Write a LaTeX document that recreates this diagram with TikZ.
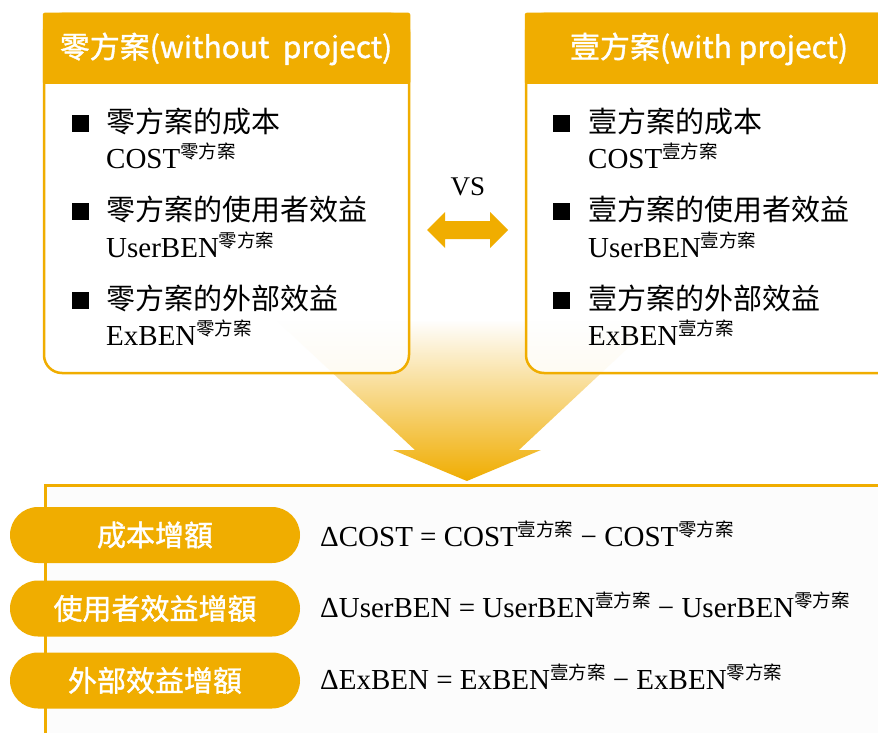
\documentclass[tikz,border=0pt]{standalone}
\usepackage{fontspec}
\setmainfont{Liberation Serif}
\newfontfamily\cjk{Noto Sans CJK TC}
\newfontfamily\cjkmid[FakeBold=1.2]{Noto Sans CJK TC}
\usetikzlibrary{fadings}
\definecolor{gold}{RGB}{240,173,0}
\definecolor{panelbg}{RGB}{252,252,252}
\tikzfading[name=fadeup, top color=transparent!100, middle color=transparent!70, bottom color=transparent!0]
\newcommand{\cjksup}[1]{\raisebox{10pt}{\fontsize{18.5pt}{18.5pt}\cjk #1}}
\tikzset{
  boxline/.style={draw=gold, line width=2.5pt, fill=white, fill opacity=0.85, draw opacity=1, rounded corners=18pt},
  headtext/.style={anchor=base, text=white, font=\cjkmid\fontsize{30pt}{32pt}\selectfont, inner sep=0pt},
  cjkline/.style={anchor=base west, font=\cjk\fontsize{29pt}{31pt}\selectfont, inner sep=0pt},
  latline/.style={anchor=base west, font=\fontsize{29pt}{31pt}\selectfont, inner sep=0pt},
  pill/.style={fill=gold, rounded corners=28pt, minimum width=290pt, minimum height=56pt, inner sep=0pt, text=white, font=\cjkmid\fontsize{29pt}{31pt}\selectfont},
  eqline/.style={anchor=base west, font=\fontsize{29pt}{31pt}\selectfont, inner sep=0pt}
}
\begin{document}
\begin{tikzpicture}[x=1pt,y=-1pt]
\clip (0,0) rectangle (878,733);
\fill[white] (0,0) rectangle (878,733);
% big funnel arrow
\fill[gold, path fading=fadeup] (276,320) -- (658,320) -- (519,450) -- (541,450) -- (467,481) -- (393,450) -- (415,450) -- cycle;
% left box
\draw[boxline] (44,14) rectangle (409,373);
\fill[gold, rounded corners=2pt] (42.75,12.75) rectangle (410.25,84);
\node[headtext] (lh) at (226,58) {零方案(without~ project)};
% right box
\draw[boxline] (526,14) rectangle (920,373);
\fill[gold, rounded corners=2pt] (524.75,12.75) rectangle (921,84);
\node[headtext] (rh) at (709,58) {壹方案(with project)};
% bullets left
\fill (72,115) rectangle (89,132);
\fill (72,203) rectangle (89,220);
\fill (72,292) rectangle (89,309);
\node[cjkline] (l1) at (106,132) {零方案的成本};
\node[latline] (l1b) at (106,168) {COST\cjksup{零方案}};
\node[cjkline] (l2) at (106,220) {零方案的使用者效益};
\node[latline] (l2b) at (106,257) {UserBEN\cjksup{零方案}};
\node[cjkline] (l3) at (106,309) {零方案的外部效益};
\node[latline] (l3b) at (106,345) {ExBEN\cjksup{零方案}};
% bullets right
\fill (553,115) rectangle (570,132);
\fill (553,203) rectangle (570,220);
\fill (553,292) rectangle (570,309);
\node[cjkline] (r1) at (588,132) {壹方案的成本};
\node[latline] (r1b) at (588,168) {COST\cjksup{壹方案}};
\node[cjkline] (r2) at (588,220) {壹方案的使用者效益};
\node[latline] (r2b) at (588,257) {UserBEN\cjksup{壹方案}};
\node[cjkline] (r3) at (588,309) {壹方案的外部效益};
\node[latline] (r3b) at (588,345) {ExBEN\cjksup{壹方案}};
% VS
\node[anchor=base, font=\fontsize{27pt}{29pt}\selectfont, inner sep=0pt] (vs) at (468,195) {VS};
\fill[gold] (427,230) -- (445,212) -- (445,221) -- (490,221) -- (490,212) -- (508,230) -- (490,248) -- (490,239) -- (445,239) -- (445,248) -- cycle;
% bottom panel
\fill[panelbg] (45,485) rectangle (900,760);
\draw[gold, line width=3pt] (45,760) -- (45,485) -- (900,485);
\node[pill] (p1) at (155,535) {成本增額};
\node[pill] (p2) at (155,608.5) {使用者效益增額};
\node[pill] (p3) at (155,680.5) {外部效益增額};
\node[eqline] (e1) at (320,546) {ΔCOST = COST\cjksup{壹方案} − COST\cjksup{零方案}};
\node[eqline] (e2) at (320,617) {ΔUserBEN = UserBEN\cjksup{壹方案} − UserBEN\cjksup{零方案}};
\node[eqline] (e3) at (320,689) {ΔExBEN = ExBEN\cjksup{壹方案} − ExBEN\cjksup{零方案}};
\end{tikzpicture}
\end{document}
